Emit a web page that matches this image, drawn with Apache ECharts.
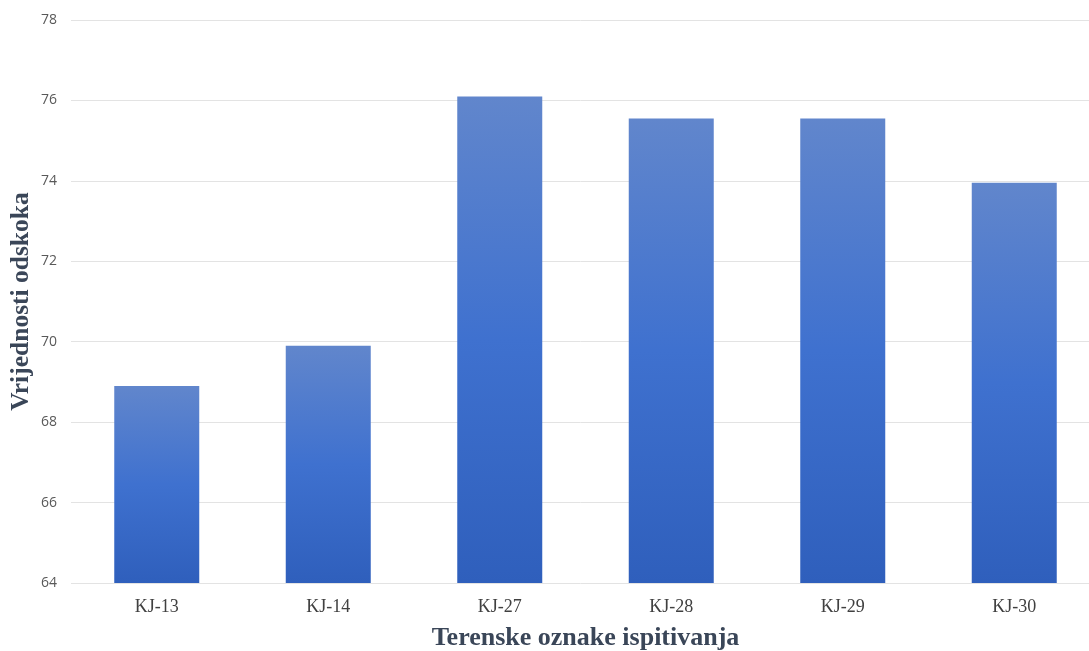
<!DOCTYPE html>
<html><head><meta charset="utf-8">
<script src="https://cdn.jsdelivr.net/npm/echarts@6/dist/echarts.min.js"></script>
<style>html,body{margin:0;padding:0;background:#fff}#c{width:1089px;height:651px}</style>
</head><body><div id="c"></div>
<script>
const categories = ['KJ-13','KJ-14','KJ-27','KJ-28','KJ-29','KJ-30'];
const values = [68.9, 69.9, 76.1, 75.55, 75.55, 73.95];
const yTicks = [64, 66, 68, 70, 72, 74, 76, 78];

const chart = echarts.init(document.getElementById('c'));
chart.setOption({
  animation: false,
  grid: { left: 71, top: 20, width: 1029, height: 563, containLabel: false, outerBoundsMode: 'none' },
  xAxis: {
    type: 'category', data: categories,
    axisLine: { show: false }, axisTick: { show: false },
    axisLabel: { fontFamily: 'Liberation Serif', fontSize: 18, color: '#404040', margin: 15 },
    name: 'Terenske oznake ispitivanja', nameLocation: 'middle', nameGap: 42,
    nameTextStyle: { fontFamily: 'Liberation Serif', fontWeight: 'bold', fontSize: 26, color: '#3a4658' }
  },
  yAxis: {
    type: 'value', min: yTicks[0], max: yTicks[yTicks.length-1], interval: 2,
    axisLine: { show: false }, axisTick: { show: false },
    splitLine: { lineStyle: { color: '#e3e3e3' } },
    axisLabel: { fontFamily: 'Open Sans', fontSize: 14, color: '#595959', margin: 14 },
    name: 'Vrijednosti odskoka', nameLocation: 'middle', nameGap: 37, nameMoveOverlap: false,
    nameTextStyle: { fontFamily: 'Liberation Serif', fontWeight: 'bold', fontSize: 25.5, color: '#3a4658' }
  },
  series: [{
    type: 'bar', data: values, barWidth: 85,
    itemStyle: {
      color: new echarts.graphic.LinearGradient(0, 0, 0, 1, [
        { offset: 0, color: '#6186cc' },
        { offset: 0.5, color: '#3f71cf' },
        { offset: 1, color: '#2f5fbc' }
      ])
    }
  }]
});
</script></body></html>
